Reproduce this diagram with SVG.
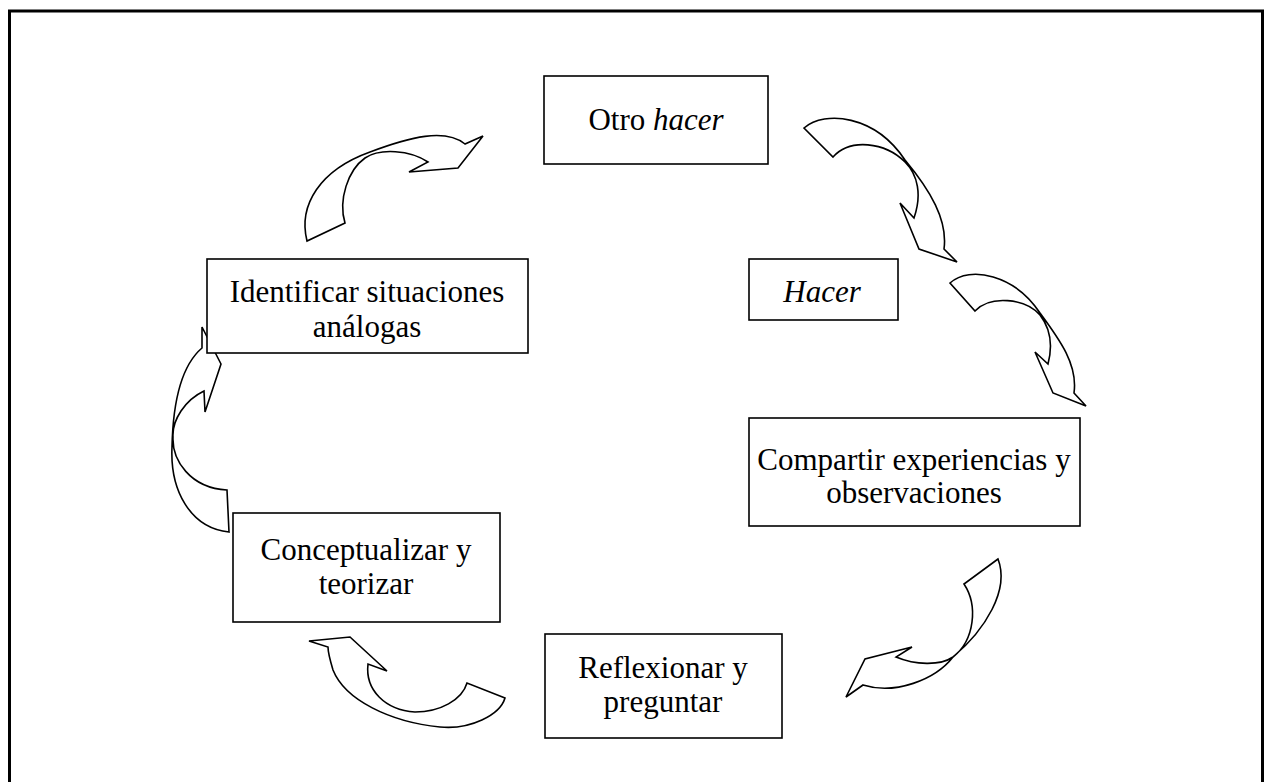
<svg xmlns="http://www.w3.org/2000/svg" width="1271" height="782" viewBox="0 0 1271 782">
<style>
.box{fill:#fff;stroke:#000;stroke-width:1.6}
.arr{fill:#fff;stroke:#000;stroke-width:1.6;stroke-linejoin:miter}
.t{font-family:"Liberation Serif",serif;font-size:31px;fill:#000;text-anchor:middle}
.i{font-style:italic}
</style>
<rect x="0" y="0" width="1271" height="782" fill="#fff"/>
<path d="M9.5,782 V11 H1262.5 V782" fill="none" stroke="#000" stroke-width="3"/>
<g id="connectors">
<path class="arr" d="M307,241 C298,205 320,170 370,152 C410,137 445,128 465,144 L483,136 L458,168 L409,172 L428,162 C410,150 380,148 365,158 C348,170 338,200 345,223 Z"/>
<path class="arr" d="M804,128 C825,110 875,115 905,160 C930,190 948,220 944,249 L957,262 L919,249 L900,203 L914,218 C922,195 918,175 905,162 C885,142 850,138 833,157 Z"/>
<path class="arr" d="M950,283 C970,265 1015,275 1040,313 C1060,340 1078,365 1074,393 L1086,406 L1053,393 L1035,352 L1048,364 C1053,345 1050,328 1040,315 C1025,298 990,295 975,311 Z"/>
<path class="arr" d="M202,327 L221,364 L205,412 L204,391 C185,400 172,420 173,437 C172,460 190,488 227,490 L229,532 C190,528 170,490 172,447 C173,400 182,365 202,348 Z"/>
<path class="arr" d="M309,641 L350,637 L387,671 L368,664 C365,690 385,710 415,712 C440,712 462,700 467,683 L505,698 C500,715 470,730 440,727 C390,722 345,700 333,670 C330,660 328,652 328,647 Z"/>
<path class="arr" d="M998,559 L964,584 C978,605 975,640 953,657 C940,666 915,665 896,657 L912,647 L865,659 L846,697 L863,685 C895,695 935,680 953,657 C985,630 1010,590 998,559 Z"/>
</g>
<g id="otro-hacer">
<rect class="box" x="544" y="76" width="224" height="88"/>
<text class="t" x="656" y="130">Otro <tspan class="i">hacer</tspan></text>
</g>
<g id="hacer">
<rect class="box" x="749" y="259" width="149" height="61"/>
<text class="t i" x="822" y="302">Hacer</text>
</g>
<g id="identificar">
<rect class="box" x="207" y="259" width="321" height="94"/>
<text class="t" x="367" y="302">Identificar situaciones</text>
<text class="t" x="367" y="337">análogas</text>
</g>
<g id="compartir">
<rect class="box" x="749" y="418" width="331" height="108"/>
<text class="t" x="914" y="470">Compartir experiencias y</text>
<text class="t" x="914" y="503">observaciones</text>
</g>
<g id="conceptualizar">
<rect class="box" x="233" y="513" width="267" height="109"/>
<text class="t" x="366" y="560">Conceptualizar y</text>
<text class="t" x="366" y="594">teorizar</text>
</g>
<g id="reflexionar">
<rect class="box" x="545" y="634" width="237" height="104"/>
<text class="t" x="663" y="678">Reflexionar y</text>
<text class="t" x="663" y="712">preguntar</text>
</g>
</svg>
